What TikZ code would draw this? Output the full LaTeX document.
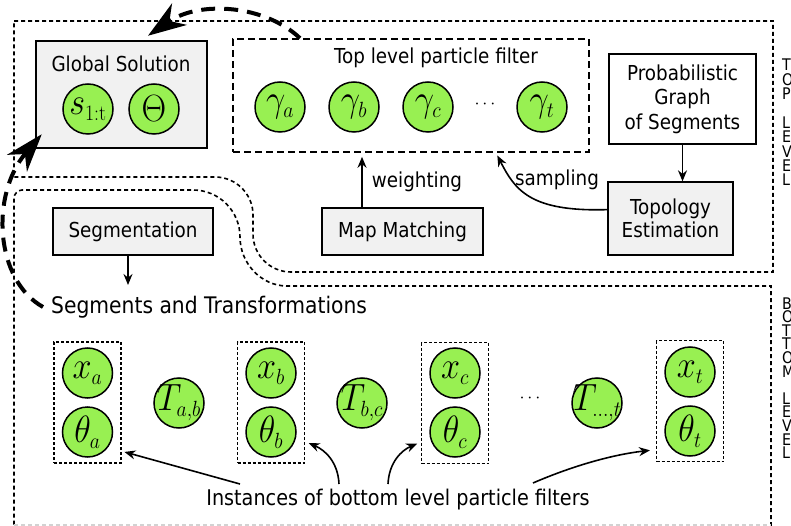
\documentclass[tikz,border=0pt]{standalone}
\usepackage{graphicx}
\usepackage[no-math]{fontspec}
\setmainfont{DejaVu Sans}[FakeStretch=0.89]
\DeclareFontShape{OML}{cmm}{m}{it}{<-6>cmmi5<6-7>cmmi6<7-8>cmmi7<8-9>cmmi8<9-10>cmmi9<10-12>cmmi10<12->cmmi12}{}
\DeclareFontShape{OT1}{cmr}{m}{n}{<-6>cmr5<6-7>cmr6<7-8>cmr7<8-9>cmr8<9-10>cmr9<10-12>cmr10<12-17>cmr12<17->cmr17}{}
\DeclareFontShape{OMS}{cmsy}{m}{n}{<-6>cmsy5<6-7>cmsy6<7-8>cmsy7<8-9>cmsy8<9-10>cmsy9<10->cmsy10}{}
\DeclareMathSizes{38}{38}{22}{16}
\newcommand{\circmath}[1]{\makebox[0pt]{\scalebox{0.9}[1]{$#1$}}}
\usetikzlibrary{arrows.meta}
\definecolor{nodegreen}{RGB}{152,240,82}
\definecolor{boxgray}{RGB}{241,241,241}
\begin{document}
\begin{tikzpicture}[x=1pt,y=-1pt,
  lbl/.style={font=\fontsize{20.6}{22}\selectfont, inner sep=0pt},
  gbox/.style={draw, line width=1.3pt, fill=boxgray, font=\fontsize{20.6}{23}\selectfont, align=center, inner sep=0pt},
  wbox/.style={draw, line width=1.3pt, fill=white, font=\fontsize{20.6}{24.5}\selectfont, align=center, inner sep=0pt},
  var/.style={circle, draw, line width=1.5pt, fill=nodegreen, minimum size=50pt, inner sep=0pt, font=\fontsize{38}{38}\selectfont},
  region/.style={line width=1.6pt, dash pattern=on 4pt off 3pt},
  tlbox/.style={draw, line width=1.6pt, dash pattern=on 7pt off 4pt},
  grp/.style={draw, line width=1.1pt, dash pattern=on 3pt off 2pt, minimum width=67pt, minimum height=121pt},
  arr/.style={-{Stealth[length=11pt,width=9pt]}, line width=1.6pt},
  bigarr/.style={line width=4pt, dash pattern=on 14pt off 9pt, -{Stealth[length=38pt,width=26pt,inset=12pt]}},
  side/.style={anchor=west, align=left, inner sep=0pt, font=\fontsize{16}{14.4}\selectfont}
]
\useasboundingbox (0,0) rectangle (791,526);
\clip (0,0) rectangle (791,526);
\fill[white] (0,0) rectangle (791,526);

% regions
\draw[region] (14,21) -- (773,21) -- (773,272) -- (291,272)
  .. controls (270,272) and (253,255) .. (253,234) -- (253,215)
  .. controls (253,194) and (236,177) .. (215,177) -- (14,177) -- cycle;
\draw[region] (771,540) -- (771,286) -- (287,286)
  .. controls (261,286) and (240,263) .. (240,237)
  .. controls (240,211) and (219,190) .. (193,190) -- (22,190)
  .. controls (18,190) and (14,194) .. (14,198) -- (14,540);
\draw[gray!35, line width=1.2pt, dash pattern=on 4pt off 3pt] (14,525) -- (771,525);

% top part
\node[gbox, line width=2.5pt, minimum width=171pt, minimum height=107pt] (gs) at (121.5,94.5) {};
\node[lbl] (gstitle) at (121,64) {Global Solution};
\node[var] (s) at (88,109) {\circmath{s_{\mathrm{1:t}}}};
\node[var] (Th) at (154,109) {\circmath{\Theta}};

\node[tlbox, minimum width=356pt, minimum height=113pt] (tl) at (411,95.5) {};
\node[lbl] (tltitle) at (436,58) {Top level particle filter};
\node[var] (ga1) at (280,107) {\circmath{\gamma_a}};
\node[var] (gb1) at (354,107) {\circmath{\gamma_b}};
\node[var] (gc1) at (428,107) {\circmath{\gamma_c}};
\node[inner sep=0pt, font=\fontsize{18}{18}\selectfont] (tdots) at (485,105) {$\cdots$};
\node[var] (gt1) at (542,107) {\circmath{\gamma_t}};

\node[wbox, minimum width=147pt, minimum height=90pt] (prob) at (682.5,99) {Probabilistic\\Graph\\of Segments};
\node[gbox, minimum width=125pt, minimum height=73pt] (topo) at (670.5,218.5) {Topology\\Estimation};
\node[gbox, minimum width=161pt, minimum height=47pt] (mm) at (402.5,231.5) {Map Matching};
\node[gbox, minimum width=160pt, minimum height=47pt] (seg) at (133,231.5) {Segmentation};

\draw[arr] (prob.south) -- (prob.south |- topo.north);
\draw[arr, shorten >=3pt] (topo.172) .. controls (530,212) and (515,190) .. (tl.-34);
\node[lbl] (samp) at (557,180) {sampling};
\draw[arr, shorten >=4pt] ([xshift=-40.5pt]mm.north) -- ([xshift=-40.5pt]mm.north |- tl.south);
\node[lbl] (weight) at (417,182) {weighting};

% bottom part
\node[anchor=west, inner sep=0pt, font=\fontsize{22.8}{24}\selectfont] (segtext) at (51,307) {Segments and Transformations};
\draw[arr] ([xshift=-5pt]seg.south) -- ([xshift=-5pt]seg.south |- 0,285);

\node[grp] (ga) at (87.5,402.5) {};
\node[grp] (gb) at (271,402.5) {};
\node[grp] (gc) at (455,403) {};
\node[grp] (gt) at (690,401) {};
\node[var] (xa) at (87.5,373) {\circmath{x_a}};
\node[var] (tha) at (87.5,432) {\circmath{\theta_a}};
\node[var] (xb) at (271,373) {\circmath{x_b}};
\node[var] (thb) at (271,432) {\circmath{\theta_b}};
\node[var] (xc) at (455,373) {\circmath{x_c}};
\node[var] (thc) at (455,432) {\circmath{\theta_c}};
\node[var] (xt) at (690,372) {\circmath{x_t}};
\node[var] (tht) at (690,431) {\circmath{\theta_t}};
\node[var] (Tab) at (179,403) {\circmath{T_{a,b}}};
\node[var] (Tbc) at (362,403) {\circmath{T_{b,c}}};
\node[inner sep=0pt, font=\fontsize{18}{18}\selectfont] (bdots) at (530,398) {$\cdots$};
\node[var] (Tt) at (597,403) {\circmath{T_{\ldots,t}}};

\node[inner sep=0pt, font=\fontsize{21.6}{23}\selectfont] (inst) at (398,500) {Instances of bottom level particle filters};
\coordinate (ia) at (240,484);
\coordinate (ib) at (339,484);
\coordinate (ic) at (388,484);
\coordinate (it) at (533,483);
\draw[arr, shorten >=3pt] (ia) -- (ga.-55);
\draw[arr, shorten >=4pt] (ib) .. controls (338,462) and (325,450) .. (gb.-49);
\draw[arr, shorten >=4pt] (ic) .. controls (389,462) and (402,450) .. (gc.-131);
\draw[arr, shorten >=6pt] (it) .. controls (570,467) and (610,455) .. (gt.-125);

% big dashed arrows
\draw[bigarr] ([xshift=-8pt]segtext.west) .. controls (-5,280) and (-10,195) .. ([shift={(7,-15)}]gs.south west);
\draw[bigarr] ([xshift=-111pt]tl.north) .. controls (265,5) and (200,0) .. ([shift={(26.5,-4)}]gs.north);

% side labels
\node[side] (toplbl) at (782,122.5) {T\\O\\P\\[14.4pt]L\\E\\V\\E\\L};
\node[side, font=\fontsize{16}{13.6}\selectfont] (botlbl) at (782,378) {B\\O\\T\\T\\O\\M\\[13.6pt]L\\E\\V\\E\\L};
\end{tikzpicture}
\end{document}
